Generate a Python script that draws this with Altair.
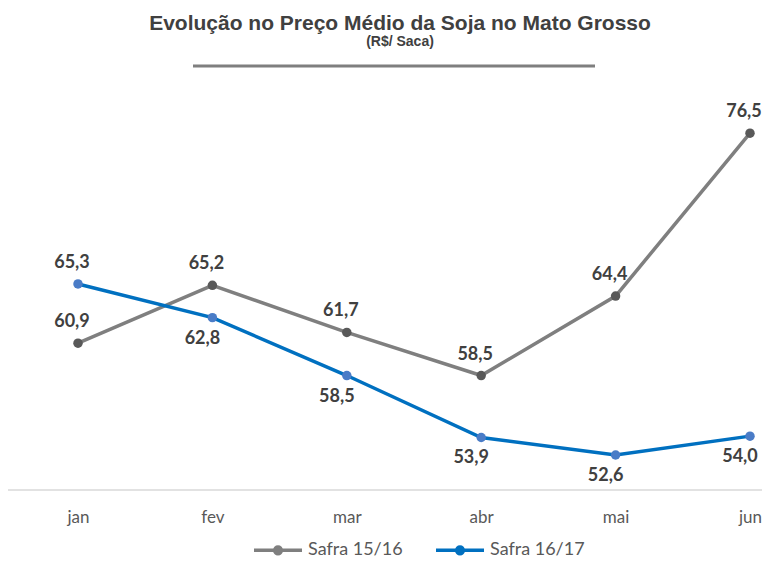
import altair as alt
import pandas as pd

months = ["jan", "fev", "mar", "abr", "mai", "jun"]
safra_1516 = [60.9, 65.2, 61.7, 58.5, 64.4, 76.5]
safra_1617 = [65.3, 62.8, 58.5, 53.9, 52.6, 54.0]
series_names = ["Safra 15/16", "Safra 16/17"]
line_colors = ["#7f7f7f", "#0070C0"]
dot_colors = ["#595959", "#4a7cc7"]

rows = []
for i, m in enumerate(months):
    rows.append({"mes": m, "serie": series_names[0], "valor": safra_1516[i],
                 "label": f"{safra_1516[i]:.1f}".replace(".", ","), "acima": True})
    rows.append({"mes": m, "serie": series_names[1], "valor": safra_1617[i],
                 "label": f"{safra_1617[i]:.1f}".replace(".", ","),
                 "acima": safra_1617[i] > safra_1516[i]})
df = pd.DataFrame(rows)

FONT = "Lato"

x_enc = alt.X("mes:N", sort=months,
              scale=alt.Scale(type="point", range=[70, 742], padding=0),
              axis=alt.Axis(title=None, labelAngle=0, ticks=False, grid=False, domain=False,
                            labelColor="#595959", labelFont=FONT, labelFontSize=17,
                            labelPadding=19))
y_enc = alt.Y("valor:Q", scale=alt.Scale(domain=[50, 80], nice=False, zero=False), axis=None)

base = alt.Chart(df)

legend_path = ("M-1,0L1,0 "
               "M0.14,0A0.14,0.14,0,1,1,-0.14,0A0.14,0.14,0,1,1,0.14,0 "
               "M0.07,0A0.07,0.07,0,1,1,-0.07,0A0.07,0.07,0,1,1,0.07,0 "
               "M0.02,0A0.02,0.02,0,1,1,-0.02,0A0.02,0.02,0,1,1,0.02,0")

lines = base.mark_line(strokeWidth=3.5).encode(
    x=x_enc, y=y_enc,
    stroke=alt.Stroke("serie:N", scale=alt.Scale(domain=series_names, range=line_colors),
                      legend=alt.Legend(title=None, orient="none", direction="horizontal",
                                        legendX=244, legendY=438,
                                        symbolType=legend_path, symbolSize=2304,
                                        symbolStrokeWidth=3.5,
                                        labelFont=FONT, labelFontSize=18, labelColor="#595959",
                                        labelOffset=4, columnPadding=26)),
)

dots = base.mark_point(filled=True, size=90, opacity=1, strokeWidth=0).encode(
    x=x_enc, y=y_enc,
    color=alt.Color("serie:N", scale=alt.Scale(domain=series_names, range=dot_colors), legend=None),
)

labels_common = dict(font=FONT, fontSize=18, fontWeight="bold", color="#404040", baseline="middle")

labels_above = base.transform_filter("datum.acima").mark_text(dy=-21, dx=-6, **labels_common).encode(
    x=x_enc, y=y_enc, text="label:N")
labels_below = base.transform_filter("!datum.acima").mark_text(dy=21, dx=-10, **labels_common).encode(
    x=x_enc, y=y_enc, text="label:N")

baseline_rule = alt.Chart(pd.DataFrame({"a": [0]})).mark_rule(color="#d9d9d9", strokeWidth=1.5).encode(
    x=alt.value(-2), x2=alt.value(762), y=alt.value(404))

title = alt.Chart(pd.DataFrame({"t": ["Evolução no Preço Médio da Soja no Mato Grosso"]})).mark_text(
    font="Liberation Sans", fontSize=21, fontWeight="bold", color="#404040", align="center",
    baseline="alphabetic").encode(x=alt.value(392), y=alt.value(-56), text="t:N")
subtitle = alt.Chart(pd.DataFrame({"t": ["(R$/ Saca)"]})).mark_text(
    font="Liberation Sans", fontSize=14, fontWeight="bold", color="#404040", align="center",
    baseline="alphabetic").encode(x=alt.value(392), y=alt.value(-40), text="t:N")
rule = alt.Chart(pd.DataFrame({"a": [0]})).mark_rule(color="#7f7f7f", strokeWidth=3).encode(
    x=alt.value(185), x2=alt.value(587), y=alt.value(-20))

chart = alt.layer(baseline_rule, lines, dots, labels_above, labels_below, title, subtitle, rule).properties(
    width=754, height=404,
    background="white",
    autosize=alt.AutoSizeParams(type="none"),
    padding={"left": 0, "top": 78, "right": 0, "bottom": 82},
).configure_view(stroke=None)

chart.save("out.html", embed_options={"renderer": "svg", "actions": False})
